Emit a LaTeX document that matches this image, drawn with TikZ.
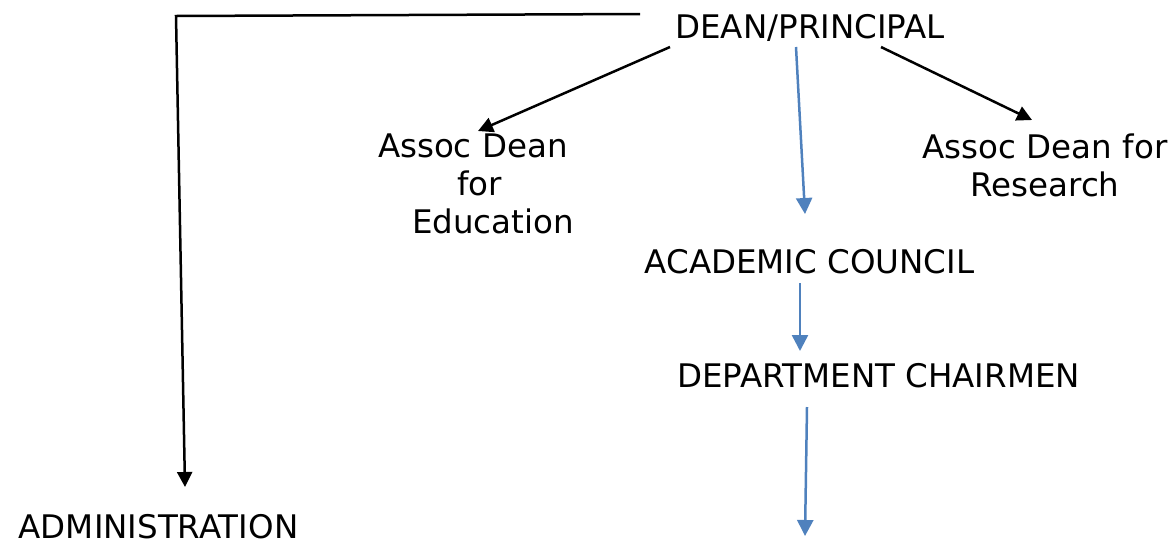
\documentclass[tikz,border=0pt]{standalone}
\usepackage{fontspec}
\setmainfont{DejaVu Sans}
\usetikzlibrary{arrows.meta,calc}
\definecolor{linkblue}{HTML}{4F81BD}
\begin{document}
\begin{tikzpicture}[x=1pt,y=-1pt,
  lbl/.style={inner sep=0pt,outer sep=0pt,font=\fontsize{32.5}{38}\selectfont},
  blackarrow/.style={draw=black,line width=2.5pt,-{Triangle[length=15pt,width=15pt]}},
  bluearrow/.style={draw=linkblue,line width=2.5pt,-{Triangle[length=16pt,width=16pt]}}]
\useasboundingbox (0,0) rectangle (1170,539);
% nodes
\node[lbl,anchor=base] (dean) at (810,38) {DEAN/PRINCIPAL};
\node[lbl,anchor=north west,align=left] (edu) at (378,134)
  {Assoc Dean\\\hspace*{79pt}for\\\hspace*{34pt}Education};
\node[lbl,anchor=north,align=center] (res) at (1045,134) {Assoc Dean for\\Research};
\node[lbl,anchor=base] (acad) at (809.5,273) {ACADEMIC COUNCIL};
\node[lbl,anchor=base] (dept) at (878.5,387) {DEPARTMENT CHAIRMEN};
\node[lbl,anchor=base] (admin) at (158.5,538) {ADMINISTRATION};
\coordinate (corner) at (176,16);
\coordinate (deptend) at (805,536);
% connectors
\draw[blackarrow] ([shift={(-170,-24)}]dean.base) -- (corner) -- ([shift={(26.5,-51)}]admin.base);
\draw[blackarrow] ([shift={(-140,9)}]dean.base) -- ([shift={(100,-3)}]edu.north west);
\draw[blackarrow] ([shift={(71,9)}]dean.base) -- ([shift={(-13,-14)}]res.north);
\draw[bluearrow] ([shift={(-14,9)}]dean.base) -- ([shift={(-4.5,-59)}]acad.base);
\draw[bluearrow] ([shift={(-9.5,10)}]acad.base) -- ([shift={(-78.5,-36)}]dept.base);
\draw[bluearrow] ([shift={(-71.5,20)}]dept.base) -- (deptend);
\end{tikzpicture}
\end{document}
